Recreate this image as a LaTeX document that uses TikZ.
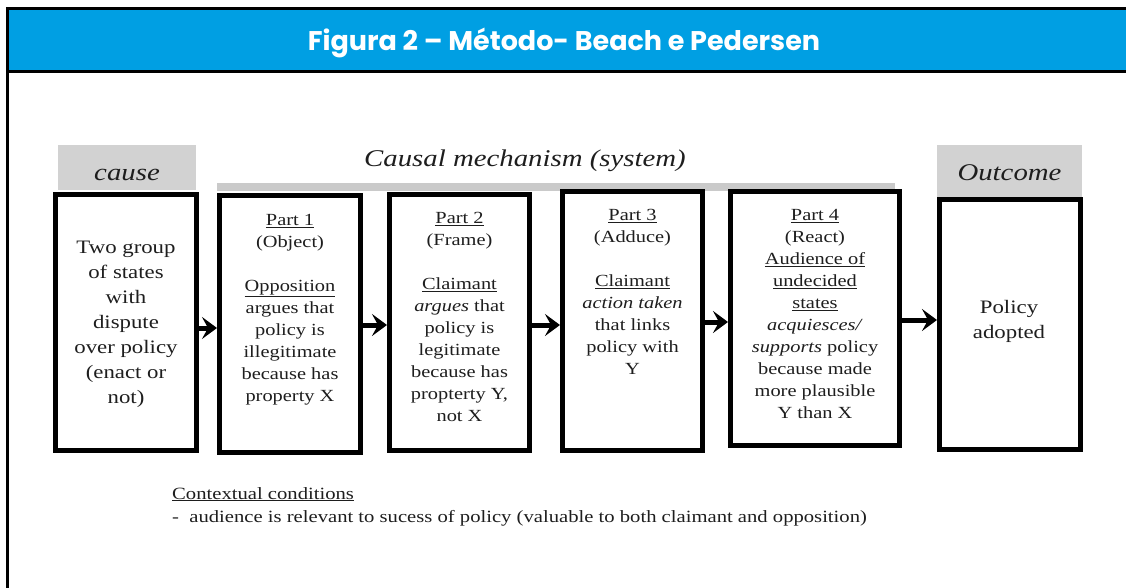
\documentclass[tikz,border=0pt]{standalone}
\usepackage{fontspec}
\setmainfont{Liberation Serif}
\newfontfamily\cmb[FakeStretch=1.2]{Liberation Serif}
\newfontfamily\ttl{Poppins}
\usetikzlibrary{arrows.meta}
\definecolor{hdrblue}{HTML}{009FE3}
\definecolor{lblgray}{HTML}{D2D2D2}
\definecolor{bargray}{HTML}{CACACA}
\definecolor{ink}{HTML}{1E1E1E}
\begin{document}
\begin{tikzpicture}[x=1pt,y=-1pt,
  boxnode/.style={draw=black, line width=5pt, inner sep=0pt, fill=white},
  lbl/.style={fill=lblgray, inner sep=0pt},
  lbltxt/.style={anchor=base, inner sep=0pt, text=ink, font=\cmb\itshape\fontsize{24}{28}\selectfont},
  txt/.style={align=center, inner sep=0pt, text=ink, font=\cmb\fontsize{17}{22}\selectfont},
  bigtxt/.style={align=center, inner sep=0pt, text=ink, font=\cmb\fontsize{19}{25}\selectfont},
  ctx/.style={anchor=base west, inner sep=0pt, text=ink, font=\cmb\fontsize{17.2}{20}\selectfont},
  arr/.style={line width=5pt, draw=black, -{Stealth[length=15pt,width=22pt,inset=6pt]}}
]
\useasboundingbox (0,0) rectangle (1126,588);
\fill[white] (0,0) rectangle (1126,588);
% header
\fill[hdrblue] (7.5,9) rectangle (1126,71);
\draw[line width=3pt] (6,9) -- (1126,9);
\draw[line width=2.5pt] (6,71.5) -- (1126,71.5);
\draw[line width=3pt] (7.5,7.5) -- (7.5,588);
\node[text=white, font=\ttl\bfseries\fontsize{27}{32}\selectfont, inner sep=0pt, anchor=base] (title) at (564,51) {Figura 2 – Método- Beach e Pedersen};

% mechanism bar and heading
\node[fill=bargray, inner sep=0pt, minimum width=678pt, minimum height=8pt] (bar) at (556,187) {};
\node[lbltxt] (mech) at (525,167) {Causal mechanism (system)};

% boxes
\node[boxnode, minimum width=141pt, minimum height=256pt] (cause) at (126,322.5) {};
\node[boxnode, minimum width=141pt, minimum height=257pt] (p1) at (290,324) {};
\node[boxnode, minimum width=140pt, minimum height=256pt] (p2) at (459.5,322.5) {};
\node[boxnode, minimum width=140pt, minimum height=259pt] (p3) at (632.5,321) {};
\node[boxnode, minimum width=169pt, minimum height=254pt] (p4) at (815,318.5) {};
\node[boxnode, minimum width=141pt, minimum height=250pt] (out) at (1010,324.5) {};

% labels
\node[lbl, minimum width=138pt, minimum height=45pt] (causelbl) at (127,167.5) {};
\node[lbltxt] (causetitle) at (127,181) {cause};
\node[lbl, minimum width=145pt, minimum height=52pt] (outlbl) at (1009.5,171) {};
\node[lbltxt] (outtitle) at (1009.5,181) {Outcome};

% arrows
\draw[arr] ([yshift=-5.5pt]cause.east) -- ([yshift=-5.5pt]cause.east -| p1.west);
\draw[arr] ([yshift=-1pt]p1.east) -- ([yshift=-1pt]p1.east -| p2.west);
\draw[arr] ([yshift=-2.5pt]p2.east) -- ([yshift=-2.5pt]p2.east -| p3.west);
\draw[arr] ([yshift=-1pt]p3.east) -- ([yshift=-1pt]p3.east -| p4.west);
\draw[arr] ([yshift=-1.5pt]p4.east) -- ([yshift=-1.5pt]p4.east -| out.west);

% texts
\node[bigtxt] (causetxt) at (126,324) {Two group\\of states\\with\\dispute\\over policy\\(enact or\\not)};
\node[txt, anchor=north] (p1txt) at (290,214) {\underline{Part 1}\\(Object)\\[22pt]\underline{Opposition}\\argues that\\policy is\\illegitimate\\because has\\property X};
\node[txt, anchor=north] (p2txt) at (459.5,212) {\underline{Part 2}\\(Frame)\\[22pt]\underline{Claimant}\\\textit{argues} that\\policy is\\legitimate\\because has\\propterty Y,\\not X};
\node[txt, anchor=north] (p3txt) at (632.5,209) {\underline{Part 3}\\(Adduce)\\[22pt]\underline{Claimant}\\\textit{action taken}\\that links\\policy with\\Y};
\node[txt, anchor=north] (p4txt) at (815,209) {\underline{Part 4}\\(React)\\\underline{Audience of}\\\underline{undecided}\\\underline{states}\\\textit{acquiesces/}\\\textit{supports} policy\\because made\\more plausible\\Y than X};
\node[bigtxt] (outtxt) at (1009,321) {Policy\\adopted};

% contextual conditions
\node[ctx] (ctxhead) at (172,499) {\underline{Contextual conditions}};
\node[ctx] (ctxline) at (172,522) {-\ \ audience is relevant to sucess of policy (valuable to both claimant and opposition)};
\end{tikzpicture}
\end{document}
